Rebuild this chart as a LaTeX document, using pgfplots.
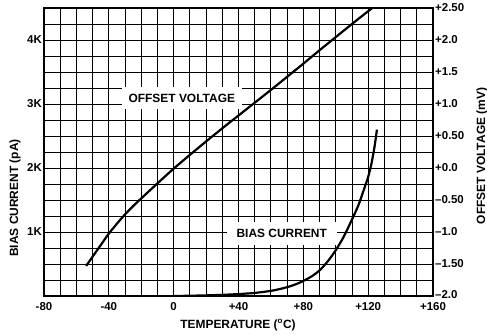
\documentclass[border=0pt]{standalone}
\usepackage{fontspec}
\setmainfont{Liberation Sans}
\usepackage{pgfplots}
\pgfplotsset{compat=1.18}

\pgfplotsset{
  chartbase/.style={
    scale only axis, width=389bp, height=288bp,
    xmin=-80, xmax=160,
    major tick length=0pt, minor tick length=0pt,
    ticklabel style={font=\fontsize{11.5}{13}\selectfont\bfseries},
    axis line style={-, black, line width=1.2bp},
  },
}

\begin{document}
\begin{tikzpicture}
\begin{axis}[
  chartbase,
  ymin=0, ymax=4500,
  xtick={-80,-40,...,160},
  xticklabels={-80,-40,0,+40,+80,+120,+160},
  minor xtick={-70,-60,...,150},
  ytick={1000,2000,3000,4000},
  yticklabels={1K,2K,3K,4K},
  minor ytick={250,500,...,4250},
  grid=both,
  major grid style={black, line width=0.9bp},
  minor grid style={black, line width=0.9bp},
  xtick pos=bottom, ytick pos=left,
  yticklabel style={inner xsep=2bp},
  xticklabel style={yshift=-3bp},
]
% bias current, pA
\addplot[black, line width=2.2bp, smooth] coordinates {
  (0,0) (10,4) (20,10) (30,18) (40,30) (50,48) (60,80) (65,106)
  (70,138) (75,180) (80,235) (85,305) (90,400) (95,540) (100,715)
  (105,930) (110,1195) (114,1420) (118,1710) (120,1860) (122,2065)
  (124,2345) (125.4,2600)
};
\node[fill=white, inner xsep=7bp, inner ysep=7bp,
      font=\fontsize{12}{14}\selectfont\bfseries]
  at (axis cs:5,3094) {OFFSET VOLTAGE};
\node[fill=white, inner xsep=10bp, inner ysep=7bp,
      font=\fontsize{12}{14}\selectfont\bfseries]
  at (axis cs:66.7,977) {BIAS CURRENT};
\end{axis}

\begin{axis}[
  chartbase,
  ymin=-2, ymax=2.5,
  axis x line=none,
  axis y line*=right,
  ytick={-2,-1.5,...,2.5},
  yticklabels={\raisebox{4bp}{\textendash2.0},\textendash1.50,\textendash1.0,\textendash0.50,
    +0.0,+0.50,+1.0,+1.5,+2.0,+2.50},
  yticklabel style={inner xsep=2bp},
]
% offset voltage, mV
\addplot[black, line width=2.2bp, smooth] coordinates {
  (-54,-1.53) (-50,-1.385) (-45,-1.205) (-40,-1.025) (-35,-0.87)
  (-30,-0.725) (-25,-0.595) (-20,-0.475) (-10,-0.24) (0,-0.01)
  (10,0.205) (20,0.415) (30,0.62) (40,0.82) (50,1.02) (60,1.22)
  (70,1.425) (80,1.63) (90,1.84) (100,2.045) (110,2.25) (122.5,2.5)
};
\end{axis}

\node[rotate=90, font=\fontsize{12}{14}\selectfont\bfseries]
  at (-29bp,98bp) {BIAS CURRENT (pA)};
\node[rotate=90, font=\fontsize{12}{14}\selectfont\bfseries]
  at (438bp,140bp) {OFFSET VOLTAGE (mV)};
\node[font=\fontsize{12}{14}\selectfont\bfseries]
  at (194bp,-29bp) {TEMPERATURE (\textsuperscript{o}C)};

\pgfresetboundingbox
\path[use as bounding box] (-44bp,-39bp) rectangle (443bp,296bp);
\end{tikzpicture}
\end{document}
